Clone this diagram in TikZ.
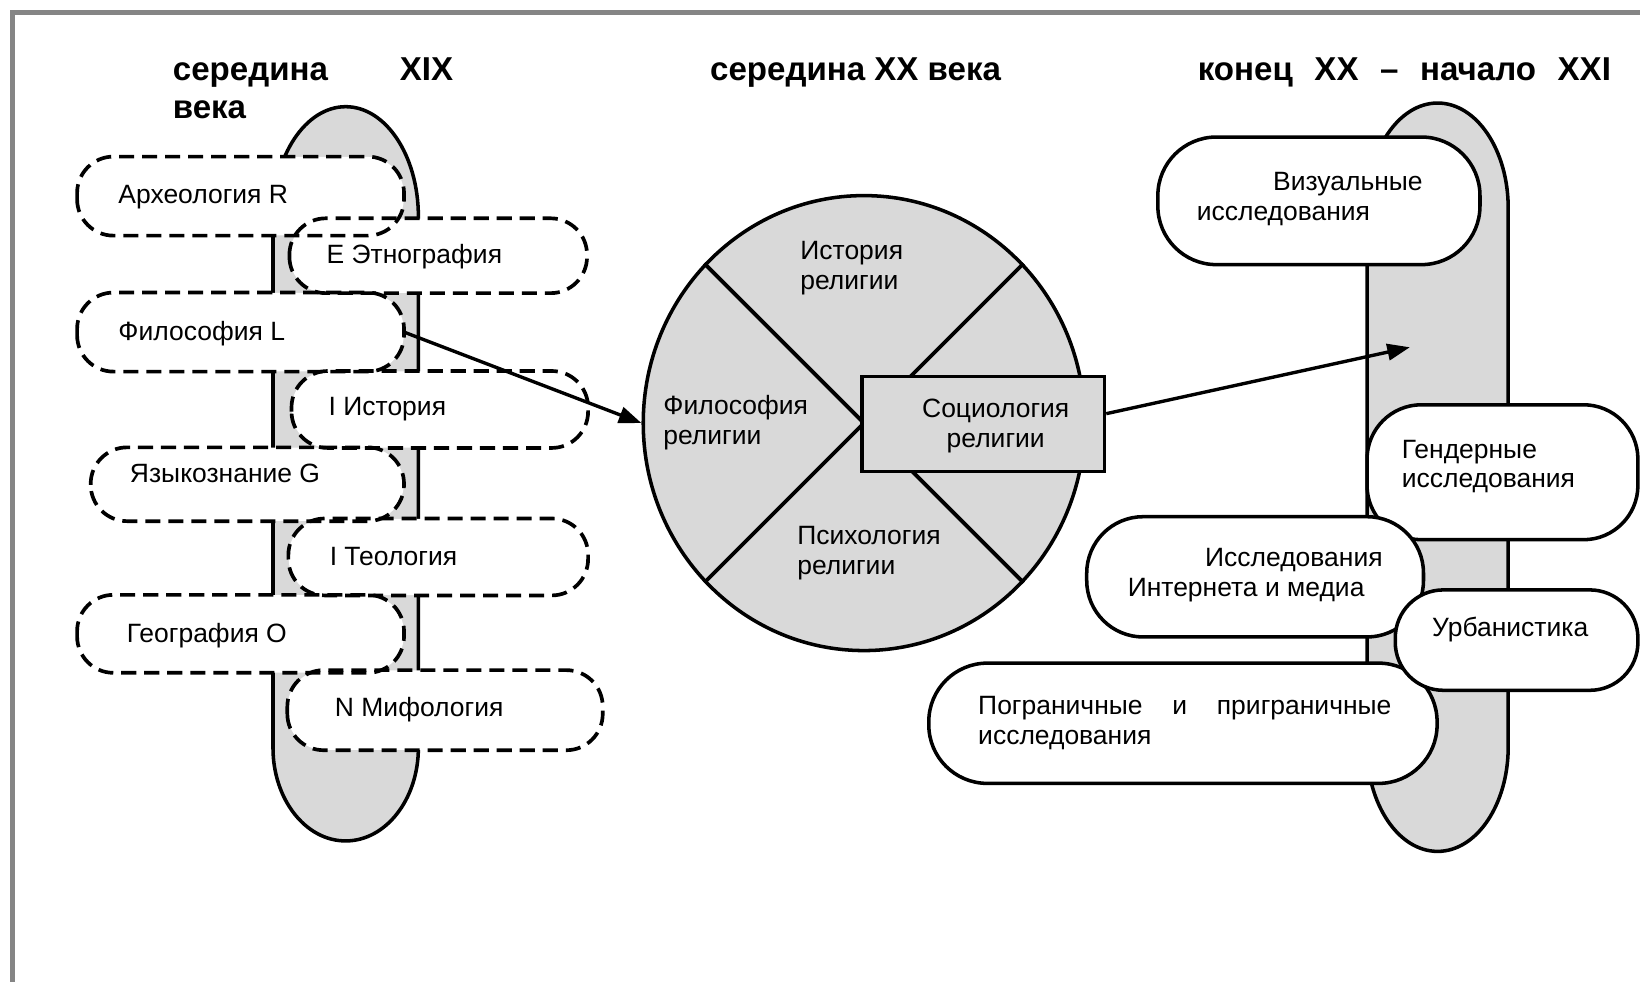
\documentclass[tikz,border=0pt]{standalone}
\usepackage{fontspec}
\setmainfont{Liberation Sans}
\usetikzlibrary{arrows.meta,shapes.geometric,fit}
\definecolor{fillg}{gray}{0.85}
\definecolor{framec}{gray}{0.52}
\newcommand{\twol}[3]{\parbox[t]{#1}{\raggedright #2\\#3}}
\begin{document}
\begin{tikzpicture}[x=0.25mm,y=-0.25mm,
  txt/.style={font=\fontsize{18pt}{20.3pt}\selectfont, inner sep=0pt, anchor=base west},
  ttl/.style={font=\fontsize{22.5pt}{25.6pt}\selectfont\bfseries, inner sep=0pt, anchor=base west},
  dfill/.style={fill=white, inner sep=0pt, rounded corners=8.7mm},
  dline/.style={draw=black, line width=2.5pt, dash pattern=on 3.6mm off 1.9mm, rounded corners=8.7mm},
  sbox/.style={draw=black, fill=white, line width=2.4pt, inner sep=0pt},
  spine/.style={draw=black, fill=fillg, line width=2.4pt},
  arr/.style={draw=black, line width=2.3pt, -{Triangle[length=5.4mm,width=3.9mm]}},
  xline/.style={draw=black, line width=2.6pt},
  frame/.style={draw=framec, line width=1.1mm}
]
\useasboundingbox (0,0) rectangle (1568,939);
\draw[frame] (1568,12) -- (12,12) -- (12,939);

% titles
\node[ttl] (ttl1) at (165,77) {\parbox[t]{67mm}{\makebox[67mm][s]{середина XIX}\\века}};
\node[ttl, anchor=base] (ttl2) at (818,77) {середина XX века};
\node[ttl] (ttl3) at (1145,77) {\makebox[98.75mm][s]{конец XX – начало XXI}};

% spines
\path[spine] (261,715) -- (261,207) arc[start angle=180, end angle=0, x radius=17.375mm, y radius=26.25mm]
  -- (400,715) arc[start angle=0, end angle=-180, x radius=17.375mm, y radius=22.25mm] -- cycle;
\path[spine] (1307,714) -- (1307,199) arc[start angle=180, end angle=0, x radius=16.875mm, y radius=25.125mm]
  -- (1442,714) arc[start angle=0, end angle=-180, x radius=16.875mm, y radius=25mm] -- cycle;

% central circle
\node[ellipse, draw=black, fill=fillg, line width=2.4pt, minimum width=105.5mm, minimum height=108.75mm, inner sep=0pt] (circ) at (826,404.5) {};
\draw[xline] (circ.135) -- (circ.-45);
\draw[xline] (circ.45) -- (circ.-135);
\node[draw=black, fill=fillg, line width=2.4pt, inner sep=0pt, fit={(824,360)(1056,451)}] (soc) {};
\node[txt, anchor=base] (soct) at (952,399) {\parbox[t]{50mm}{\centering Социология\\религии}};
\node[txt] (hist) at (765,248) {\twol{40mm}{История}{религии}};
\node[txt] (phil) at (634,396) {\twol{40mm}{Философия}{религии}};
\node[txt] (psy) at (762,521) {\twol{40mm}{Психология}{религии}};

% left dashed boxes: fills
\node[dfill, fit={(74,150)(386,225)}] (arch) {};
\node[dfill, fit={(277,209)(561,280)}] (ethn) {};
\node[dfill, fit={(74,280)(386,355)}] (fil) {};
\node[dfill, fit={(279,355)(562,428)}] (ist) {};
\node[dfill, fit={(87,428)(386,498)}] (yaz) {};
\node[dfill, fit={(276,496)(562,569)}] (teo) {};
\node[dfill, fit={(74,569)(386,643)}] (geo) {};
\node[dfill, fit={(275,641)(576,717)}] (mif) {};
% outlines
\foreach \b in {arch,ethn,fil,ist,yaz,teo,geo,mif}
  \draw[dline] (\b.south west) rectangle (\b.north east);
% texts
\node[txt] (archt) at (113,195) {Археология R};
\node[txt] (etht) at (312,252) {E Этнография};
\node[txt] (filt) at (113,326) {Философия L};
\node[txt] (istt) at (314,397) {I История};
\node[txt] (yazt) at (124,461) {Языкознание G};
\node[txt] (teot) at (315,541) {I Теология};
\node[txt] (geot) at (121,614) {География O};
\node[txt] (mift) at (320,685) {N Мифология};

% right boxes
\node[sbox, rounded corners=14mm, fit={(1107,131)(1415,253)}] (vis) {};
\node[txt] (vist) at (1144,182) {\twol{80mm}{\hspace*{18.25mm}Визуальные}{исследования}};
\node[sbox, rounded corners=13mm, fit={(1307,387)(1566,516)}] (gen) {};
\node[txt] (gent) at (1340,438) {\twol{60mm}{Гендерные}{исследования}};
\node[sbox, rounded corners=13.5mm, fit={(1039,494)(1361,609)}] (inet) {};
\node[txt] (inett) at (1078,542) {\twol{80mm}{\hspace*{18.5mm}Исследования}{Интернета и медиа}};
\node[sbox, rounded corners=14mm, fit={(888,634)(1374,749)}] (pog) {};
\node[txt] (pogt) at (935,683) {\parbox[t]{100mm}{\makebox[98.75mm][s]{Пограничные и приграничные}\\исследования}};
\node[sbox, rounded corners=11.5mm, fit={(1334,564)(1566,660)}] (urb) {};
\node[txt] (urbt) at (1369,609) {Урбанистика};

% arrows
\coordinate (a2end) at (1348,332);
\draw[arr] (fil.east) -- (circ.west);
\draw[arr] ([yshift=2.5mm]soc.east) -- (a2end);
\end{tikzpicture}
\end{document}
